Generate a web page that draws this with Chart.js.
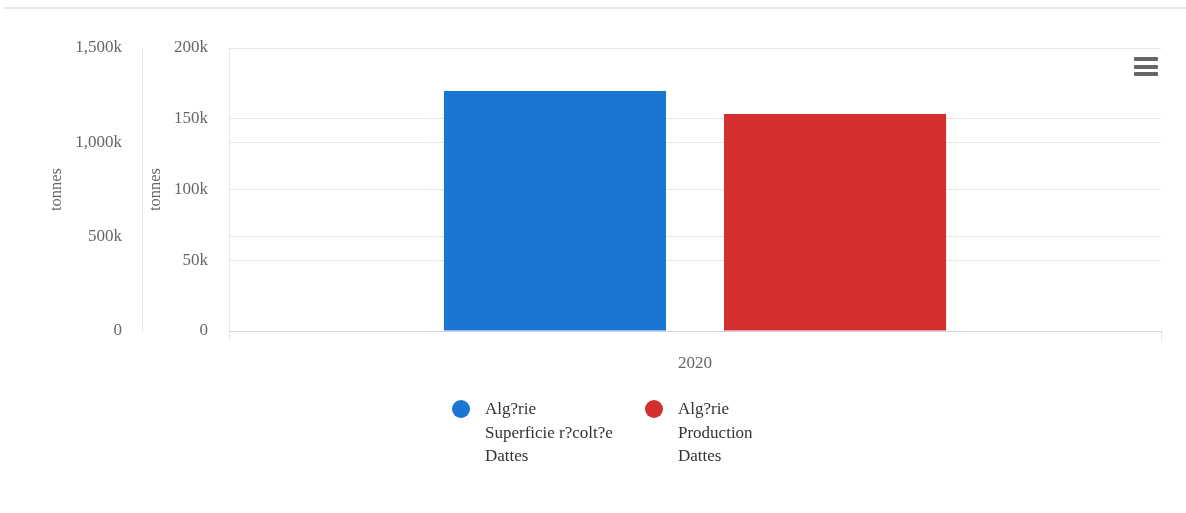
<!DOCTYPE html>
<html>
<head>
<meta charset="utf-8">
<script src="https://cdn.jsdelivr.net/npm/chart.js@4"></script>
<style>
  html, body { margin: 0; padding: 0; background: #fff; }
  #wrap { position: relative; width: 1186px; height: 513px; overflow: hidden; }
  #topline { position: absolute; left: 4px; right: 0; top: 7px; height: 2px; background: #e6e6e6; }
  #menu { position: absolute; left: 1134px; top: 57px; width: 24px; }
  #menu div { height: 4px; background: #666; border-radius: 1px; margin-bottom: 3.5px; }
  .legend { position: absolute; top: 397px; font-family: "Liberation Serif", serif; font-size: 17px; line-height: 23.5px; color: #333; }
  .legend .dot { position: absolute; left: 0; top: 3px; width: 18px; height: 18px; border-radius: 50%; }
  .legend .txt { margin-left: 33px; }
</style>
</head>
<body>
<div id="wrap">
  <div id="topline"></div>
  <canvas id="myChart" width="1186" height="513"></canvas>
  <div id="menu"><div></div><div></div><div></div></div>
  <div class="legend" style="left:452px"><span class="dot" style="background:#1976d2"></span><div class="txt" id="leg0"></div></div>
  <div class="legend" style="left:645px"><span class="dot" style="background:#d32f2f"></span><div class="txt" id="leg1"></div></div>
</div>
<script>
// data
const years = ['2020'];
const superficie = [169600];   // Superficie récoltée (inner axis)
const production = [1150000];  // Production (outer axis)
const seriesNames = [
  ['Alg?rie', 'Superficie r?colt?e', 'Dattes'],
  ['Alg?rie', 'Production', 'Dattes']
];
const innerTicks = [0, 50000, 100000, 150000, 200000];
const outerTicks = [0, 500000, 1000000, 1500000];

document.getElementById('leg0').innerHTML = seriesNames[0].join('<br>');
document.getElementById('leg1').innerHTML = seriesNames[1].join('<br>');

function fmt(v) {
  if (v === 0) return '0';
  return (v / 1000).toLocaleString('en-US') + 'k';
}

const tickFont = { family: 'Liberation Serif', size: 17 };
const titleFont = { family: 'Liberation Serif', size: 16.5 };
const grey = '#e6e6e6';

let ctx = document.getElementById('myChart').getContext('2d');
let chart = new Chart(ctx, {
  type: 'bar',
  data: {
    labels: years,
    datasets: [
      {
        label: seriesNames[0].join(' '),
        data: superficie,
        backgroundColor: '#1976d2',
        yAxisID: 'yInner',
        categoryPercentage: 0.601,
        barPercentage: 0.793
      },
      {
        label: seriesNames[1].join(' '),
        data: production,
        backgroundColor: '#d32f2f',
        yAxisID: 'yOuter',
        categoryPercentage: 0.601,
        barPercentage: 0.793
      }
    ]
  },
  options: {
    responsive: false,
    animation: false,
    layout: { padding: { top: 48, left: 0, right: 25, bottom: 132 } },
    plugins: {
      legend: { display: false },
      tooltip: { enabled: false }
    },
    scales: {
      x: {
        grid: { drawOnChartArea: false, drawTicks: true, tickLength: 10, color: grey },
        border: { color: '#ccd6eb' },
        ticks: { font: tickFont, color: '#666', padding: 12 },
        afterFit: (s) => { s.height = 50; }
      },
      yOuter: {
        position: 'left',
        weight: 2,
        min: 0, max: 1500000,
        afterBuildTicks: (s) => { s.ticks = outerTicks.map(v => ({ value: v })); },
        ticks: { font: tickFont, color: '#666', padding: 20, callback: fmt },
        grid: { color: grey, drawTicks: false },
        border: { color: grey },
        title: { display: true, text: 'tonnes', color: '#666', font: titleFont, padding: { top: 47, bottom: 0 } },
        afterFit: (s) => { s.width = 142; }
      },
      yInner: {
        position: 'left',
        weight: 1,
        min: 0, max: 200000,
        afterBuildTicks: (s) => { s.ticks = innerTicks.map(v => ({ value: v })); },
        ticks: { font: tickFont, color: '#666', padding: 21, callback: fmt },
        grid: { color: grey, drawTicks: false },
        border: { color: grey },
        title: { display: true, text: 'tonnes', color: '#666', font: titleFont, padding: { top: 4, bottom: 0 } },
        afterFit: (s) => { s.width = 87; }
      }
    }
  }
});
</script>
</body>
</html>
